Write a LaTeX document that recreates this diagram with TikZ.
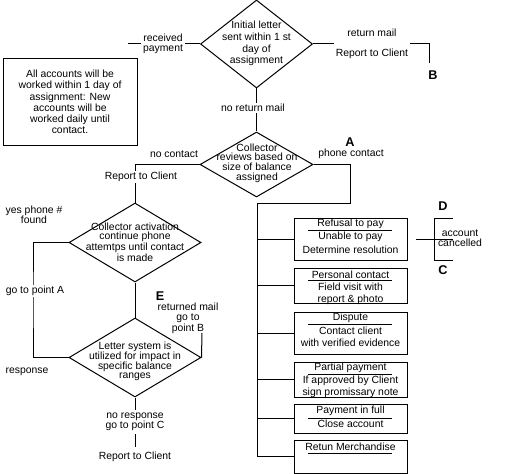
\documentclass[tikz,border=0pt]{standalone}
\usepackage{fontspec}
\setmainfont{Liberation Sans}
\usetikzlibrary{shapes.geometric}
\begin{document}
\begin{tikzpicture}[x=0.75pt,y=-0.75pt,line width=0.75pt,
  txt/.style={font=\fontsize{7.8}{9}\selectfont,inner sep=0pt,align=center},
  wt/.style={txt,fill=white,inner xsep=1.5pt,inner ysep=1pt},
  dia/.style={draw,diamond,inner sep=0pt},
  box/.style={draw,rectangle,inner sep=0pt,minimum width=84.75pt},
  letter/.style={font=\fontsize{9.5}{10}\selectfont\bfseries,inner sep=0pt}]
\useasboundingbox (0,0) rectangle (524,474);
% shapes
\node[dia,minimum width=84pt,minimum height=66pt] (d1) at (256.5,44) {};
\node[dia,minimum width=84.75pt,minimum height=48.75pt] (d2) at (256.5,164.5) {};
\node[dia,minimum width=99pt,minimum height=59.25pt] (d3) at (135,242.5) {};
\node[dia,minimum width=99pt,minimum height=59.25pt] (d4) at (135,357.5) {};
\node[box,minimum height=31.5pt] (b1) at (350.5,239) {};
\node[box,minimum height=26.25pt] (b2) at (350.5,285.5) {};
\node[box,minimum height=31.5pt] (b3) at (350.5,333) {};
\node[box,minimum height=26.25pt] (b4) at (350.5,379.5) {};
\node[box,minimum height=21.75pt] (b5) at (350.5,418.5) {};
\node[box,minimum height=24.75pt] (b6) at (350.5,456.5) {};
\node[draw,rectangle,inner sep=0pt,minimum width=100.5pt,minimum height=65.25pt] (nb) at (70,102.5) {};
\node[txt,inner ysep=3.5pt] (rc) at (135,457) {Report to Client};
% coordinates
\coordinate (rp) at (128,44);
\coordinate (rm1) at (429,44);
\coordinate (rm2) at (429,63);
\coordinate (pc) at (350,203);
\coordinate (tr) at (257,203);
\coordinate (yp) at (33,300);
\coordinate (rmb) at (202,333);
\coordinate (ac1) at (416,239);
\coordinate (ac2) at (453,239);
\coordinate (brt) at (453,218);
\coordinate (brb) at (453,260);
% connectors
\draw (d1.west) -- (rp);
\draw (d1.east) -- (rm1) -- (rm2);
\draw (d1.south) -- (d2.north);
\draw (d2.west) -| (d3.north);
\draw (d2.east) -| (pc) -- (tr) |- (b6.west);
\foreach \b in {b1,b2,b3,b4,b5} \draw (tr |- \b.west) -- (\b.west);
\draw (ac1) -- (ac2);
\draw (brt) -- (brt -| 434,0) -- (brb -| 434,0) -- (brb);
\draw (d3.west) -| (yp) |- (d4.west);
\draw (d3.south) -- (d4.north);
\draw (rmb) -- (d4.east);
\draw (d4.south) -- (rc.north);
% labels on lines
\node[wt,font=\fontsize{7.8}{7.5}\selectfont] (lrp) at (163,44) {received\\payment};
\node[wt,font=\fontsize{7.8}{15}\selectfont] (lrm) at (372,44) {return mail\\Report to Client};
\node[wt] (lnr) at (253,108) {no return mail};
\node[txt] (lnc) at (174,154) {no contact};
\node[wt] (lrc) at (141,177) {Report to Client};
\node[txt] (lpc) at (351,154) {phone contact};
\node[txt,font=\fontsize{7.8}{7.5}\selectfont] (lac) at (460,238) {account\\cancelled};
\node[txt,font=\fontsize{7.8}{7.5}\selectfont] (lyp) at (34,215) {yes phone \#\\found};
\node[wt] (lga) at (35,291) {go to point A};
\node[txt] (lre) at (27,372) {response};
\node[txt,font=\fontsize{7.8}{7.9}\selectfont] (lrb) at (188,318) {returned mail\\go to\\point B};
\node[wt,font=\fontsize{7.8}{7.5}\selectfont,inner ysep=2.5pt] (lnp) at (135,422) {no response\\go to point C};
% letters
\node[letter] (LA) at (350,142) {A};
\node[letter] (LB) at (433,75) {B};
\node[letter] (LD) at (443,206) {D};
\node[letter] (LC) at (443,270) {C};
\node[letter] (LE) at (160,296) {E};
% shape texts
\node[txt,font=\fontsize{7.8}{8.8}\selectfont] (t1) at (256.5,43.5) {Initial letter\\sent within 1 st\\day of\\assignment};
\node[txt,font=\fontsize{7.8}{7.3}\selectfont] (t2) at (257,163) {Collector\\reviews based on\\size of balance\\assigned};
\node[txt,font=\fontsize{7.8}{6.8}\selectfont] (t3) at (135,242.5) {Collector activation\\continue phone\\attemtps until contact\\is made};
\node[txt,font=\fontsize{7.8}{7.3}\selectfont] (t4) at (135,361.5) {Letter system is\\utilized for impact in\\specific balance\\ranges};
\node[txt,font=\fontsize{7.8}{8.4}\selectfont] (tn) at (70,102) {All accounts will be\\worked within 1 day of\\assignment: New\\accounts will be\\worked daily until\\contact.};
% box texts
\node[txt] (b1a) at (350.5,224) {Refusal to pay};
\draw (308,230) -- (392,230);
\node[txt] (b1b) at (350.5,237) {Unable to pay};
\node[txt] (b1c) at (350.5,250) {Determine resolution};
\node[txt] (b2a) at (350.5,275) {Personal contact};
\draw (308,280) -- (392,280);
\node[txt] (b2b) at (350.5,287) {Field visit with};
\node[txt] (b2c) at (350.5,300) {report \& photo};
\node[txt] (b3a) at (350.5,318) {Dispute};
\draw (308,324) -- (392,324);
\node[txt] (b3b) at (350.5,331) {Contact client};
\node[txt] (b3c) at (350.5,343) {with verified evidence};
\node[txt] (b4a) at (350.5,368) {Partial payment};
\draw (308,374) -- (392,374);
\node[txt] (b4b) at (350.5,381) {If approved by Client};
\node[txt] (b4c) at (350.5,393) {sign promissary note};
\node[txt] (b5a) at (350.5,411) {Payment in full};
\draw (308,418) -- (392,418);
\node[txt] (b5b) at (350.5,424) {Close account};
\node[txt] (b6a) at (350.5,447) {Retun Merchandise};
\draw (308,453) -- (392,453);
\end{tikzpicture}
\end{document}
